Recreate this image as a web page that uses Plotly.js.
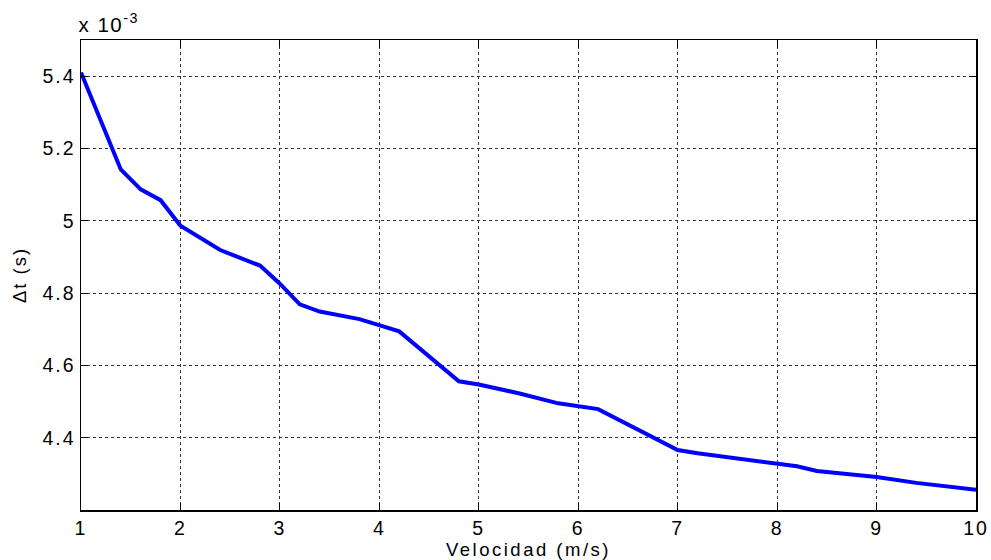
<!DOCTYPE html>
<html>
<head>
<meta charset="utf-8">
<script src="https://cdn.plot.ly/plotly-3.0.1.min.js"></script>
<style>
  html, body { margin: 0; padding: 0; background: #fff; }
  #chart { width: 991px; height: 560px; }
  /* wider glyph spacing, like the classic Helvetica screen rendering */
  #chart .xtick text, #chart .ytick text { letter-spacing: 2px; }
  #chart .xtitle { letter-spacing: 2.5px; }
  #chart .ytitle { letter-spacing: 2px; }
  #chart .annotation-text { letter-spacing: 1.5px; }
</style>
</head>
<body>
<div id="chart"></div>
<script>
// Velocity (m/s)
const velocidad = [1.0, 1.4, 1.6, 1.8, 2.0, 2.4, 2.8, 3.0, 3.2, 3.4, 3.8, 4.2, 4.8, 5.0, 5.4, 5.8, 6.2, 7.0, 7.2, 8.0, 8.2, 8.4, 9.0, 9.4, 9.6, 10.0];
// Time difference, in units of 1e-3 s
const deltaT = [5.41, 5.142, 5.087, 5.057, 4.986, 4.919, 4.876, 4.826, 4.769, 4.749, 4.728, 4.694, 4.556, 4.547, 4.523, 4.495, 4.479, 4.366, 4.357, 4.327, 4.321, 4.308, 4.291, 4.275, 4.268, 4.256];

const xTicks = [1, 2, 3, 4, 5, 6, 7, 8, 9, 10];
const yTicks = [4.4, 4.6, 4.8, 5.0, 5.2, 5.4];
const yTickText = ['4.4', '4.6', '4.8', '5', '5.2', '5.4'];

const font = 'Liberation Sans, Arial, Helvetica, sans-serif';

const trace = {
  x: velocidad,
  y: deltaT,
  type: 'scatter',
  mode: 'lines',
  line: { color: '#0000ff', width: 4 },
  hoverinfo: 'skip'
};

const axisCommon = {
  showline: true,
  linecolor: '#000',
  linewidth: 1.5,
  mirror: 'ticks',
  ticks: 'inside',
  ticklen: 7,
  tickcolor: '#000',
  showgrid: true,
  gridcolor: '#333',
  gridwidth: 1,
  griddash: 'dot',
  zeroline: false,
  tickfont: { family: font, size: 19.5, color: '#000' }
};

const layout = {
  width: 991,
  height: 560,
  margin: { l: 81, r: 15, t: 40, b: 50 },
  paper_bgcolor: '#fff',
  plot_bgcolor: '#fff',
  showlegend: false,
  xaxis: Object.assign({}, axisCommon, {
    range: [1, 10],
    tickvals: xTicks,
    ticktext: xTicks.map(String),
    title: { text: 'Velocidad (m/s)', font: { family: font, size: 18.5, color: '#000' }, standoff: 0 }
  }),
  yaxis: Object.assign({}, axisCommon, {
    range: [4.2, 5.5],
    tickvals: yTicks,
    ticktext: yTickText,
    title: { text: '\u0394t (s)', font: { family: font, size: 18.5, color: '#000' }, standoff: 17 }
  }),
  annotations: [{
    xref: 'paper', yref: 'paper',
    x: 0, y: 1,
    xanchor: 'left', yanchor: 'bottom',
    yshift: 2,
    showarrow: false,
    text: 'x 10<sup>-3</sup>',
    font: { family: font, size: 20.5, color: '#000' }
  }]
};

Plotly.newPlot('chart', [trace], layout, { displayModeBar: false, staticPlot: true });
</script>
</body>
</html>
